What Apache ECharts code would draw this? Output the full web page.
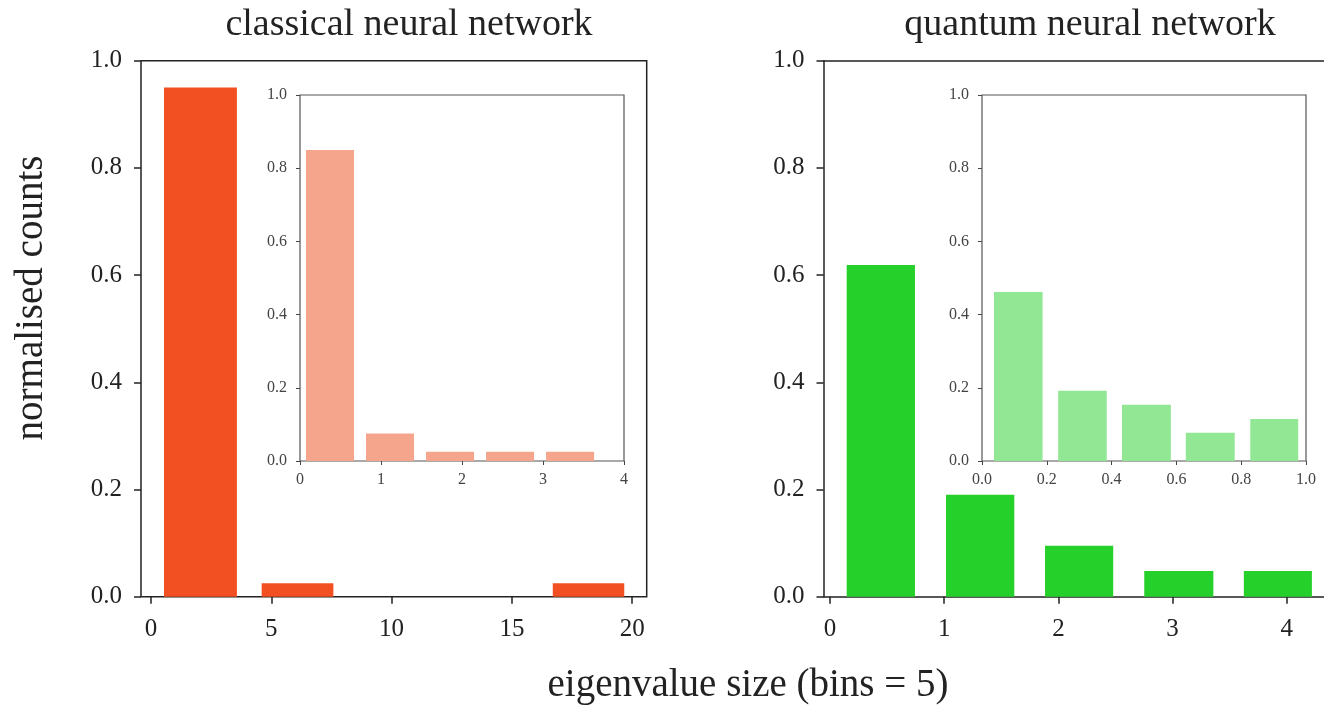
<!DOCTYPE html>
<html>
<head>
<meta charset="utf-8">
<title>Eigenvalue histograms</title>
<script src="https://cdn.jsdelivr.net/npm/echarts@6/dist/echarts.min.js"></script>
<style>
  html, body { margin: 0; padding: 0; background: #fff; }
  #chart { width: 1324px; height: 705px; }
</style>
</head>
<body>
<div id="chart"></div>
<script>
// ---- data: histogram bins (left edge, right edge of each drawn bar) and normalised counts ----
const classicalLeft   = [0.54, 4.60, 8.60, 12.63, 16.70];
const classicalRight  = [3.57, 7.58, 11.63, 15.66, 19.67];
const classicalCounts = [0.95, 0.025, 0, 0, 0.025];

const classicalZoomLeft   = [0.074, 0.815, 1.556, 2.297, 3.038];
const classicalZoomRight  = [0.667, 1.408, 2.149, 2.890, 3.631];
const classicalZoomCounts = [0.85, 0.075, 0.025, 0.025, 0.025];

const quantumLeft   = [0.146, 1.016, 1.883, 2.752, 3.624];
const quantumRight  = [0.744, 1.614, 2.480, 3.357, 4.220];
const quantumCounts = [0.619, 0.190, 0.095, 0.048, 0.048];

const quantumZoomLeft   = [0.037, 0.235, 0.432, 0.629, 0.828];
const quantumZoomRight  = [0.187, 0.385, 0.583, 0.780, 0.976];
const quantumZoomCounts = [0.462, 0.192, 0.154, 0.077, 0.115];

// ---- tick labels ----
const classicalTicks     = [0, 5, 10, 15, 20];
const classicalZoomTicks = [0, 1, 2, 3, 4];
const quantumTicks       = [0, 1, 2, 3, 4];
const quantumZoomTicks   = [0, 0.2, 0.4, 0.6, 0.8, 1.0];
const countTicks         = [0, 0.2, 0.4, 0.6, 0.8, 1.0];

const titles = ['classical neural network', 'quantum neural network'];
const yLabel = 'normalised counts';
const xLabel = 'eigenvalue size (bins = 5)';

const SERIF = '"Liberation Serif", "DejaVu Serif", serif';
const INK = '#222';
const INSET_INK = '#444';

function rows(lo, hi, v) {
  return lo.map((x, i) => [x, hi[i], v[i]]);
}

function renderBar(params, api) {
  const top = api.coord([api.value(0), api.value(2)]);
  const base = api.coord([api.value(1), 0]);
  return {
    type: 'rect',
    shape: { x: top[0], y: top[1], width: base[0] - top[0], height: base[1] - top[1] },
    style: { fill: api.visual('color') }
  };
}

function tickStyle(big) {
  return { color: big ? INK : INSET_INK, width: big ? 1.5 : 1 };
}

function xAx(grid, min, max, ticks, fmt, big, withLine) {
  return {
    type: 'value', gridIndex: grid, min: min, max: max, position: 'bottom',
    splitLine: { show: false },
    axisLine: { show: !!withLine, onZero: false, lineStyle: tickStyle(big) },
    axisTick: { show: true, customValues: ticks, length: big ? 7 : 4, inside: false,
                lineStyle: tickStyle(big) },
    axisLabel: { customValues: ticks, formatter: fmt, margin: big ? 20 : 11,
                 fontFamily: SERIF, fontSize: big ? 25 : 16, color: big ? INK : INSET_INK }
  };
}

function yAx(grid, big, withLine) {
  return {
    type: 'value', gridIndex: grid, min: 0, max: 1,
    splitLine: { show: false },
    axisLine: { show: !!withLine, onZero: false, lineStyle: tickStyle(big) },
    axisTick: { show: true, customValues: countTicks, length: big ? 7 : 4, inside: false,
                lineStyle: tickStyle(big) },
    axisLabel: { customValues: countTicks, formatter: v => v.toFixed(1), margin: big ? 19 : 13,
                 fontFamily: SERIF, fontSize: big ? 25 : 16, color: big ? INK : INSET_INK }
  };
}

// top spine of the right panel, whose right edge runs past the page
function topSpine(grid, min, max) {
  return {
    type: 'value', gridIndex: grid, min: min, max: max, position: 'top',
    splitLine: { show: false },
    axisLine: { show: true, onZero: false, lineStyle: tickStyle(true) },
    axisTick: { show: false }, axisLabel: { show: false }
  };
}

const intFmt = v => String(Math.round(v));
const decFmt = v => v.toFixed(1);

const chart = echarts.init(document.getElementById('chart'), null, { renderer: 'canvas' });

chart.setOption({
  backgroundColor: '#fff',
  animation: false,
  title: [
    { text: titles[0], left: 404, top: 1, textAlign: 'center',
      textStyle: { fontFamily: SERIF, fontSize: 38, fontWeight: 'normal', color: INK } },
    { text: titles[1], left: 1085, top: 1, textAlign: 'center',
      textStyle: { fontFamily: SERIF, fontSize: 38, fontWeight: 'normal', color: INK } }
  ],
  grid: [
    { left: 141, top: 60.7, width: 505.7, height: 536, show: true,
      borderColor: INK, borderWidth: 1.5, backgroundColor: '#fff', z: 0 },
    { left: 300, top: 95, width: 324, height: 366, show: true,
      borderColor: '#555', borderWidth: 1.2, backgroundColor: '#fff', z: 3 },
    { left: 823.5, top: 60.7, width: 500.5, height: 536, show: false },
    { left: 982, top: 95, width: 324, height: 366, show: true,
      borderColor: '#555', borderWidth: 1.2, backgroundColor: '#fff', z: 3 }
  ],
  xAxis: [
    xAx(0, -0.416, 20.603, classicalTicks, intFmt, true, false),
    xAx(1, 0, 4, classicalZoomTicks, intFmt, false, false),
    xAx(2, -0.057, 4.326, quantumTicks, intFmt, true, true),
    xAx(3, 0, 1, quantumZoomTicks, decFmt, false, false),
    topSpine(2, -0.057, 4.326)
  ],
  yAxis: [yAx(0, true, false), yAx(1, false, false), yAx(2, true, true), yAx(3, false, false)],
  series: [
    { type: 'custom', xAxisIndex: 0, yAxisIndex: 0, renderItem: renderBar,
      itemStyle: { color: '#F24F22' }, encode: { x: [0, 1], y: 2 },
      data: rows(classicalLeft, classicalRight, classicalCounts), z: 2 },
    { type: 'custom', xAxisIndex: 1, yAxisIndex: 1, renderItem: renderBar,
      itemStyle: { color: '#F6A58D' }, encode: { x: [0, 1], y: 2 },
      data: rows(classicalZoomLeft, classicalZoomRight, classicalZoomCounts), z: 4 },
    { type: 'custom', xAxisIndex: 2, yAxisIndex: 2, renderItem: renderBar,
      itemStyle: { color: '#25D02A' }, encode: { x: [0, 1], y: 2 },
      data: rows(quantumLeft, quantumRight, quantumCounts), z: 2 },
    { type: 'custom', xAxisIndex: 3, yAxisIndex: 3, renderItem: renderBar,
      itemStyle: { color: '#92E794' }, encode: { x: [0, 1], y: 2 },
      data: rows(quantumZoomLeft, quantumZoomRight, quantumZoomCounts), z: 4 }
  ],
  graphic: [
    { type: 'text', x: 32, y: 298, rotation: Math.PI / 2,
      style: { text: yLabel, fontFamily: SERIF, fontSize: 39, fill: INK,
               align: 'center', verticalAlign: 'middle' } },
    { type: 'text', x: 748, y: 686,
      style: { text: xLabel, fontFamily: SERIF, fontSize: 39, fill: INK,
               align: 'center', verticalAlign: 'middle' } }
  ]
});
</script>
</body>
</html>
